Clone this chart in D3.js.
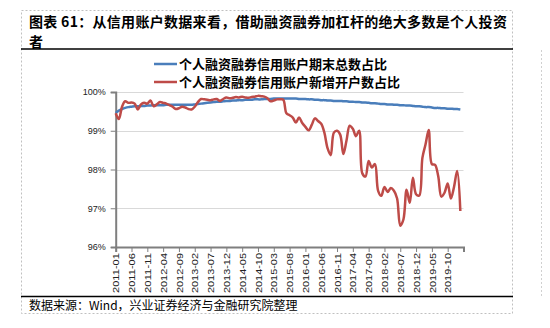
<!DOCTYPE html>
<html>
<head>
<meta charset="utf-8">
<script src="https://cdn.jsdelivr.net/npm/d3@7"></script>
<style>
  body { margin: 0; background: #fff; }
  svg { display: block; }
</style>
</head>
<body>
<div id="app"></div>
<script>
// months 2011-01 .. 2020-02, one value per month
const months = d3.timeMonth.range(new Date(2011, 0, 1), new Date(2020, 2, 1)).map(d3.timeFormat("%Y-%m"));

// 个人融资融券信用账户期末总数占比 (%)
const totalShare = [
  99.46, 99.52, 99.56, 99.59, 99.61, 99.62, 99.63, 99.63, 99.64, 99.64,
  99.65, 99.65, 99.66, 99.66, 99.66, 99.66, 99.67, 99.67, 99.67, 99.67,
  99.67, 99.67, 99.67, 99.67, 99.67, 99.68, 99.69, 99.70, 99.71, 99.72,
  99.73, 99.74, 99.75, 99.75, 99.76, 99.77, 99.77, 99.78, 99.78, 99.79,
  99.79, 99.80, 99.80, 99.80, 99.81, 99.81, 99.81, 99.82, 99.82, 99.82,
  99.83, 99.83, 99.83, 99.83, 99.83, 99.83, 99.83, 99.83, 99.82, 99.82,
  99.82, 99.81, 99.81, 99.80, 99.80, 99.79, 99.79, 99.78, 99.78, 99.77,
  99.77, 99.77, 99.76, 99.76, 99.75, 99.75, 99.74, 99.74, 99.73, 99.73,
  99.72, 99.71, 99.71, 99.70, 99.69, 99.69, 99.68, 99.68, 99.67, 99.67,
  99.66, 99.66, 99.65, 99.65, 99.64, 99.63, 99.63, 99.62, 99.61, 99.61,
  99.60, 99.59, 99.59, 99.58, 99.58, 99.57, 99.57, 99.56, 99.56, 99.55
];

// 个人融资融券信用账户新增开户数占比 (%)
const newShare = [
  99.45, 99.30, 99.62, 99.76, 99.72, 99.73, 99.70, 99.55, 99.68, 99.72,
  99.70, 99.78, 99.63, 99.68, 99.74, 99.72, 99.70, 99.66, 99.62, 99.56,
  99.58, 99.62, 99.60, 99.56, 99.55, 99.62, 99.74, 99.82, 99.81, 99.80,
  99.79, 99.81, 99.82, 99.77, 99.82, 99.86, 99.84, 99.85, 99.87, 99.86,
  99.88, 99.86, 99.85, 99.87, 99.88, 99.90, 99.89, 99.88, 99.84, 99.76,
  99.78, 99.81, 99.81, 99.80, 99.45, 99.40, 99.34, 99.21, 99.34, 99.20,
  99.10, 99.01, 99.15, 99.32, 99.25, 99.18, 98.95, 98.55, 98.37, 98.95,
  99.00, 98.90, 98.40, 98.75, 99.13, 99.05, 98.86, 99.00, 97.90, 97.82,
  98.22, 98.05, 98.14, 97.45, 97.32, 97.55, 97.42, 97.52, 97.45, 97.25,
  96.55, 96.71, 97.48, 97.14, 97.79, 97.36, 97.33, 98.30, 98.65, 99.02,
  98.14, 98.12, 97.83, 97.30, 97.40, 97.64, 97.25, 97.55, 97.96, 96.93
];

const yTicks = [96, 97, 98, 99, 100];
const seriesNames = ["个人融资融券信用账户期末总数占比", "个人融资融券信用账户新增开户数占比"];
const seriesColors = ["#4a7ebb", "#be4b48"];

const W = 550, H = 328;
const svg = d3.select("#app").append("svg").attr("width", W).attr("height", H);

const cjk = "'Noto Sans CJK SC', sans-serif";
const latin = "'Liberation Sans', Arial, sans-serif";

// frame
svg.append("rect").attr("x", 21.5).attr("y", 10.5).attr("width", 491).attr("height", 303)
    .attr("fill", "none").attr("stroke", "#c0c0c0").attr("stroke-dasharray", "2,2");
svg.append("line").attr("x1", 541.5).attr("x2", 541.5).attr("y1", 50).attr("y2", 296)
    .attr("stroke", "#d0d0d0").attr("stroke-dasharray", "2,2");
svg.append("line").attr("x1", 21).attr("x2", 513).attr("y1", 49).attr("y2", 49).attr("stroke", "#000").attr("stroke-width", 1.5);
svg.append("line").attr("x1", 21).attr("x2", 513).attr("y1", 296.5).attr("y2", 296.5).attr("stroke", "#000").attr("stroke-width", 1.5);

// title
const title = svg.append("text").attr("font-family", cjk).attr("font-weight", "bold").attr("font-size", 14)
    .attr("letter-spacing", 0.3).attr("fill", "#000");
title.append("tspan").attr("x", 29).attr("y", 27).text("图表 61：从信用账户数据来看，借助融资融券加杠杆的绝大多数是个人投资");
title.append("tspan").attr("x", 29).attr("y", 46.5).text("者");

// source
svg.append("text").attr("x", 29).attr("y", 309.5).attr("font-family", cjk).attr("font-size", 12).attr("fill", "#000")
    .text("数据来源：Wind，兴业证券经济与金融研究院整理");

// scales
const x = d3.scaleLinear().domain([0, 110]).range([115.7, 463.5]);
const y = d3.scaleLinear().domain([96, 100]).range([247, 92]);

const chart = svg.append("g");

// gridlines
chart.selectAll(".grid").data(yTicks.slice(1)).join("line")
    .attr("x1", x(0)).attr("x2", x(110))
    .attr("y1", d => Math.round(y(d)) + 0.5).attr("y2", d => Math.round(y(d)) + 0.5)
    .attr("stroke", "#d9d9d9").attr("stroke-width", 1);

// y axis
const yAxis = chart.append("g").attr("transform", `translate(${x(0)},0)`)
    .call(d3.axisLeft(y).tickValues(yTicks).tickFormat(d => d + "%").tickSize(5).tickPadding(5));
yAxis.select(".domain").attr("stroke", "#7f7f7f").attr("stroke-width", 2);
yAxis.selectAll(".tick line").attr("stroke", "#7f7f7f");
yAxis.selectAll(".tick text").attr("font-family", latin).attr("font-size", 9).attr("fill", "#222");

// x axis
const xTicks = d3.range(0, 111, 5);
const xAxis = chart.append("g").attr("transform", `translate(0,${y(96)})`)
    .call(d3.axisBottom(x).tickValues(xTicks).tickSizeOuter(0).tickSize(5)
        .tickFormat(i => months[i] || ""));
xAxis.select(".domain").attr("stroke", "#7f7f7f").attr("stroke-width", 2);
xAxis.selectAll(".tick line").attr("stroke", "#7f7f7f");
xAxis.selectAll(".tick text")
    .attr("font-family", latin).attr("font-size", 9).attr("fill", "#222")
    .attr("text-anchor", "end")
    .attr("transform", "rotate(-90)")
    .attr("x", -6).attr("y", 0).attr("dy", "0.35em")
    .attr("textLength", d => months[d] ? 40 : null)
    .attr("lengthAdjust", "spacingAndGlyphs");

// lines
const line = d3.line().x((d, i) => x(i)).y(d => y(d)).curve(d3.curveCatmullRom.alpha(0.5));
[totalShare, newShare].forEach((s, k) => {
    chart.append("path").datum(s)
        .attr("d", line)
        .attr("fill", "none")
        .attr("stroke", seriesColors[k])
        .attr("stroke-width", 2.5)
        .attr("stroke-linejoin", "round");
});

// legend
const legend = svg.append("g");
seriesNames.forEach((name, k) => {
    const ly = 64 + k * 18;
    legend.append("line").attr("x1", 154).attr("x2", 177).attr("y1", ly).attr("y2", ly)
        .attr("stroke", seriesColors[k]).attr("stroke-width", 2.5);
    legend.append("text").attr("x", 179).attr("y", ly + 4.5)
        .attr("font-family", cjk).attr("font-weight", "bold").attr("font-size", 13).attr("fill", "#000")
        .text(name);
});
</script>
</body>
</html>
